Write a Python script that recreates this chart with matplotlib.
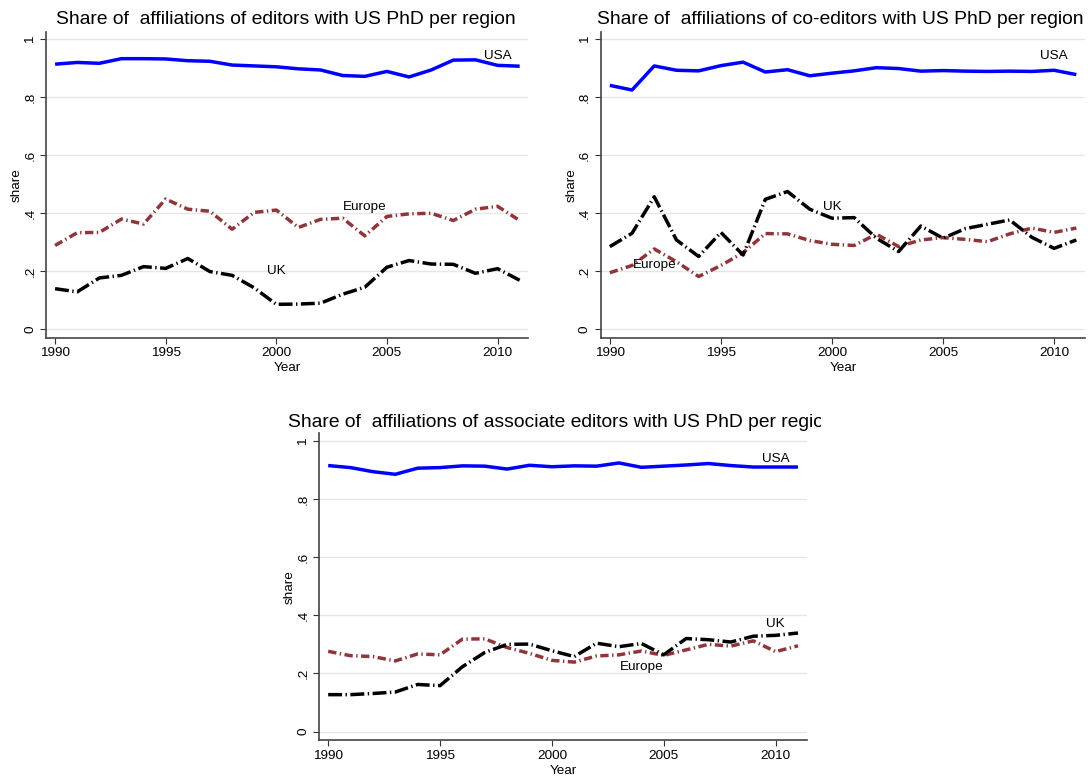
import numpy as np
import matplotlib
matplotlib.use('Agg')
import matplotlib.pyplot as plt
from matplotlib.transforms import Bbox

plt.rcParams['font.family'] = ['Liberation Sans', 'DejaVu Sans']

years = list(range(1990, 2012))

# editors
ed_usa = [0.914, 0.920, 0.917, 0.933, 0.933, 0.932, 0.926, 0.924, 0.911, 0.908, 0.905,
          0.898, 0.894, 0.875, 0.872, 0.889, 0.870, 0.894, 0.928, 0.929, 0.910, 0.907]
ed_eur = [0.289, 0.333, 0.334, 0.380, 0.363, 0.449, 0.414, 0.407, 0.345, 0.403, 0.411,
          0.351, 0.379, 0.383, 0.322, 0.389, 0.398, 0.400, 0.375, 0.414, 0.424, 0.375]
ed_uk = [0.140, 0.129, 0.177, 0.186, 0.216, 0.210, 0.244, 0.199, 0.186, 0.143, 0.086,
         0.087, 0.090, 0.121, 0.145, 0.214, 0.237, 0.225, 0.224, 0.193, 0.209, 0.169]

# co-editors
co_usa = [0.841, 0.825, 0.908, 0.893, 0.891, 0.909, 0.921, 0.887, 0.895, 0.874, 0.883,
          0.891, 0.902, 0.899, 0.890, 0.892, 0.890, 0.889, 0.890, 0.889, 0.893, 0.878]
co_eur = [0.195, 0.220, 0.277, 0.233, 0.182, 0.220, 0.264, 0.330, 0.329, 0.306, 0.293,
          0.289, 0.328, 0.285, 0.308, 0.316, 0.310, 0.302, 0.329, 0.349, 0.334, 0.349]
co_uk = [0.285, 0.331, 0.457, 0.308, 0.251, 0.334, 0.256, 0.448, 0.475, 0.414, 0.383,
         0.385, 0.314, 0.268, 0.356, 0.314, 0.347, 0.362, 0.377, 0.317, 0.279, 0.308]

# associate editors
as_usa = [0.915, 0.908, 0.894, 0.885, 0.906, 0.908, 0.914, 0.913, 0.903, 0.916, 0.911,
          0.914, 0.913, 0.924, 0.909, 0.913, 0.917, 0.922, 0.915, 0.910, 0.910, 0.910]
as_eur = [0.276, 0.261, 0.258, 0.243, 0.267, 0.264, 0.318, 0.319, 0.289, 0.269, 0.245,
          0.239, 0.260, 0.264, 0.277, 0.262, 0.281, 0.300, 0.294, 0.312, 0.275, 0.295]
as_uk = [0.127, 0.127, 0.131, 0.136, 0.162, 0.158, 0.223, 0.272, 0.300, 0.301, 0.278,
         0.258, 0.304, 0.292, 0.303, 0.264, 0.320, 0.316, 0.308, 0.328, 0.331, 0.339]

titles = ["Share of  affiliations of editors with US PhD per region",
          "Share of  affiliations of co-editors with US PhD per region",
          "Share of  affiliations of associate editors with US PhD per region"]

# label positions (x, y) for USA, Europe, UK
labels = [
    {'USA': (2010, 0.943), 'Europe': (2004, 0.421), 'UK': (2000, 0.201)},
    {'USA': (2010, 0.943), 'Europe': (1992, 0.220), 'UK': (2000, 0.421)},
    {'USA': (2010, 0.939), 'Europe': (2004, 0.221), 'UK': (2010, 0.371)},
]

W, H = 1091, 776
fig = plt.figure(figsize=(W / 100, H / 100), dpi=100)

# pixel boxes: left, right, top, bottom ; title x, baseline y ; clip right
boxes = [(46, 528.3, 31.7, 337.7, 56, 24, 545),
         (600.7, 1085, 31.7, 337.7, 597, 24, 1091),
         (319, 806.7, 433.3, 740, 288, 427, 821)]
series = [(ed_usa, ed_eur, ed_uk), (co_usa, co_eur, co_uk), (as_usa, as_eur, as_uk)]

fs = 9.7
for i, (l, r, t, b, tx, ty, clipr) in enumerate(boxes):
    ax = fig.add_axes([l / W, 1 - b / H, (r - l) / W, (b - t) / H])
    usa, eur, uk = series[i]
    ax.plot(years, usa, color='#0000ff', lw=2.5, solid_capstyle='butt')
    ax.plot(years, eur, color='#903539', lw=2.5, linestyle=(0, (2.4, 1.0, 0.4, 1.0)))
    ax.plot(years, uk, color='black', lw=2.5, linestyle=(0, (4.0, 1.0, 0.4, 1.0)))
    for name, (x, y) in labels[i].items():
        ax.text(x, y, name, ha='center', va='center', fontsize=fs)
    ax.set_xlim(1989.59, 2011.39)
    ax.set_ylim(-0.029, 1.026)
    ax.set_xticks([1990, 1995, 2000, 2005, 2010])
    ax.set_yticks([0, 0.2, 0.4, 0.6, 0.8, 1.0])
    ax.set_yticklabels(['0', '.2', '.4', '.6', '.8', '1'], rotation=90, va='center')
    ax.tick_params(labelsize=fs, length=4, width=0.8, color='#333333', pad=3)
    ax.grid(axis='y', color='#e6e6e6', lw=1)
    ax.set_axisbelow(True)
    for s in ['top', 'right']:
        ax.spines[s].set_visible(False)
    for s in ['left', 'bottom']:
        ax.spines[s].set_color('#444444')
        ax.spines[s].set_linewidth(1.2)
    ax.set_xlabel('Year', fontsize=fs, labelpad=2)
    ax.set_ylabel('share', fontsize=fs, labelpad=1)
    tt = fig.text(tx / W, 1 - ty / H, titles[i], fontsize=13.9, ha='left', va='baseline')
    tt.set_clip_on(True)
    tt.set_clip_box(Bbox.from_extents(0, 0, clipr, H))

fig.savefig('out.png', dpi=100)
